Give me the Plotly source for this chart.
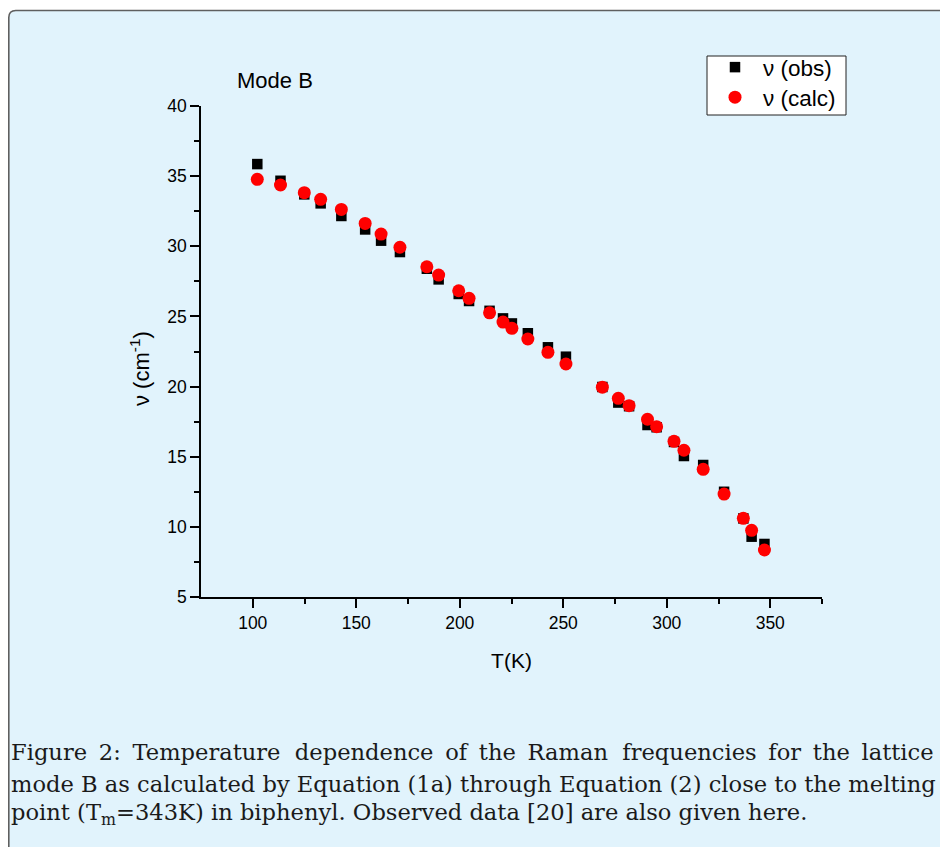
import plotly.graph_objects as go

T_K = [102.2, 113.4, 124.9, 132.8, 142.8, 154.3, 162.0, 171.1, 184.1, 189.8,
       199.5, 204.5, 214.4, 220.9, 225.2, 232.9, 242.6, 251.3, 268.9, 276.6,
       281.8, 290.7, 295.1, 303.5, 308.3, 317.6, 327.7, 337.0, 341.0, 347.2]
nu_obs = [35.86, 34.67, 33.70, 33.06, 32.16, 31.20, 30.40, 29.59, 28.40, 27.64,
          26.60, 26.10, 25.40, 24.86, 24.50, 23.80, 22.80, 22.13, 19.97, 18.86,
          18.60, 17.26, 17.10, 16.05, 15.05, 14.41, 12.50, 10.60, 9.30, 8.78]
nu_calc = [34.77, 34.37, 33.82, 33.35, 32.63, 31.63, 30.87, 29.93, 28.54, 27.95,
           26.83, 26.29, 25.26, 24.60, 24.15, 23.39, 22.44, 21.61, 19.96, 19.16,
           18.64, 17.67, 17.14, 16.10, 15.46, 14.10, 12.34, 10.61, 9.75, 8.35]

x_ticks = [100, 150, 200, 250, 300, 350]
y_ticks = [5, 10, 15, 20, 25, 30, 35, 40]

caption_lines = [
    "Figure 2: Temperature dependence of the Raman frequencies for the lattice",
    "mode B as calculated by Equation (1a) through Equation (2) close to the melting",
    "point (T<sub>m</sub>=343K) in biphenyl. Observed data [20] are also given here.",
]

OFF = 8  # page body margin
W, H = 948 - OFF, 847 - OFF
L, R, TOP, BOT = 201 - OFF, 822 - OFF, 106 - OFF, 597 - OFF
pw, ph = R - L, BOT - TOP


def px(x):
    return (x - OFF - L) / pw


def py(y):
    return (BOT - (y - OFF)) / ph


SANS = "Liberation Sans, Arial, sans-serif"

fig = go.Figure()
fig.add_trace(go.Scatter(x=T_K, y=nu_obs, mode="markers", name="\u03bd (obs)",
                         legend="legend",
                         marker=dict(symbol="square", size=10.5, color="black")))
fig.add_trace(go.Scatter(x=T_K, y=nu_calc, mode="markers", name="\u03bd (calc)",
                         legend="legend2",
                         marker=dict(symbol="circle", size=13, color="#ff0000")))

# background rounded box
x0, x1, y0, y1 = px(8.8), px(970), py(880), py(10.5)
rx, ry = 7 / pw, 7 / ph
path = (f"M {x0},{y0} L {x0},{y1-ry} Q {x0},{y1} {x0+rx},{y1} "
        f"L {x1},{y1} L {x1},{y0} Z")
fig.add_shape(type="path", xref="paper", yref="paper", path=path,
              fillcolor="#e1f3fc", line=dict(color="#5f5f5f", width=1.6),
              layer="below")

# legend frame
fig.add_shape(type="rect", xref="paper", yref="paper",
              x0=px(707), x1=px(846), y0=py(115), y1=py(56),
              fillcolor="white", line=dict(color="#222222", width=1), layer="below")

fig.add_annotation(x=px(235), y=py(80), xref="paper", yref="paper",
                   text="Mode B", showarrow=False, xanchor="left", yanchor="middle",
                   font=dict(family=SANS, size=22, color="black"))

fig.add_annotation(x=px(140), y=py(369), xref="paper", yref="paper",
                   text="\u03bd (cm<sup>-1</sup>)", showarrow=False, textangle=-90,
                   xanchor="center", yanchor="middle",
                   font=dict(family=SANS, size=22, color="black"))

NB = "\u00a0"
TH = "\u2009"
words = caption_lines[0].split(" ")
pads = [TH, TH, NB, TH, TH, TH, NB, TH, TH, TH]
line0 = words[0]
for w, p in zip(words[1:], pads):
    line0 += " " + p + w
cap_text = [line0, caption_lines[1], caption_lines[2]]
cap_y = [752, 784, 814]
for t, yy in zip(cap_text, cap_y):
    fig.add_annotation(x=px(9), y=py(yy), xref="paper", yref="paper", text=t,
                       showarrow=False, xanchor="left", yanchor="middle",
                       font=dict(family="DejaVu Serif, serif", size=22.6, color="#1a1a1a"))

axis_common = dict(showgrid=False, zeroline=False, showline=True, linecolor="black",
                   linewidth=1.5, ticks="outside", ticklen=9, tickwidth=1.5,
                   tickcolor="black", mirror=False,
                   tickfont=dict(family=SANS, size=17.5, color="black"))

leg_common = dict(xanchor="left", yanchor="top", bgcolor="rgba(0,0,0,0)",
                  borderwidth=0, itemwidth=46,
                  font=dict(family=SANS, size=22.5, color="black"))

fig.update_layout(
    width=W, height=H,
    margin=dict(l=L, r=W - R, t=TOP, b=H - BOT),
    paper_bgcolor="white", plot_bgcolor="rgba(0,0,0,0)",
    showlegend=True,
    legend=dict(x=px(707), y=py(46), **leg_common),
    legend2=dict(x=px(707), y=py(76), **leg_common),
    xaxis=dict(range=[75, 375], tickmode="array", tickvals=x_ticks,
               minor=dict(tickvals=[125, 175, 225, 275, 325, 375], ticklen=5, tickwidth=1.5,
                          tickcolor="black", ticks="outside"),
               title=dict(text="T(K)", standoff=22,
                          font=dict(family=SANS, size=21, color="black")),
               **axis_common),
    yaxis=dict(range=[5, 40], tickmode="array", tickvals=y_ticks,
               minor=dict(tickvals=[7.5, 12.5, 17.5, 22.5, 27.5, 32.5, 37.5], ticklen=5,
                          tickwidth=1.5, tickcolor="black", ticks="outside"),
               **axis_common),
)

fig.write_html("out.html")
